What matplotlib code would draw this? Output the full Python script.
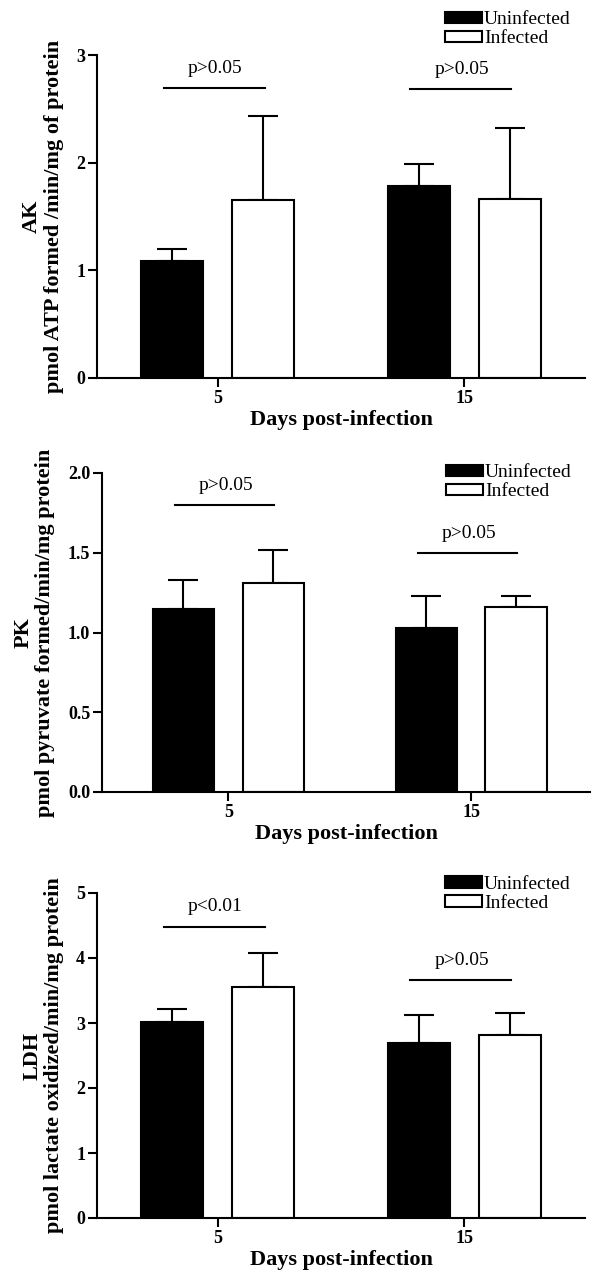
import numpy as np
import matplotlib
matplotlib.use("Agg")
import matplotlib.pyplot as plt

plt.rcParams['font.family'] = ['Liberation Serif', 'DejaVu Serif']

days = ["5", "15"]
groups = ["Uninfected", "Infected"]

ak_mean = [[1.09, 1.78], [1.65, 1.66]]
ak_err = [[0.11, 0.21], [0.78, 0.66]]
ak_sig = ["p>0.05", "p>0.05"]
ak_sig_y = [2.69, 2.68]

pk_mean = [[1.15, 1.03], [1.31, 1.16]]
pk_err = [[0.18, 0.20], [0.21, 0.07]]
pk_sig = ["p>0.05", "p>0.05"]
pk_sig_y = [1.80, 1.50]

ldh_mean = [[3.01, 2.69], [3.55, 2.81]]
ldh_err = [[0.20, 0.43], [0.52, 0.34]]
ldh_sig = ["p<0.01", "p>0.05"]
ldh_sig_y = [4.48, 3.66]

panels = [
    dict(name="AK", unit="pmol ATP formed /min/mg of protein", mean=ak_mean, err=ak_err,
         sig=ak_sig, sig_y=ak_sig_y, ymax=3, yticks=[0, 1, 2, 3], fmt="{:.0f}",
         pos=[97, 55, 585, 378], xlim=(-0.49, 1.49), leg=(0.713, 1.135)),
    dict(name="PK", unit="pmol pyruvate formed/min/mg protein", mean=pk_mean, err=pk_err,
         sig=pk_sig, sig_y=pk_sig_y, ymax=2.0, yticks=[0, 0.5, 1.0, 1.5, 2.0], fmt="{:.1f}",
         pos=[102, 473, 590, 792], xlim=(-0.52, 1.49), leg=(0.705, 1.027)),
    dict(name="LDH", unit="pmol lactate oxidized/min/mg protein", mean=ldh_mean, err=ldh_err,
         sig=ldh_sig, sig_y=ldh_sig_y, ymax=5, yticks=[0, 1, 2, 3, 4, 5], fmt="{:.0f}",
         pos=[97, 893, 585, 1218], xlim=(-0.49, 1.49), leg=(0.713, 1.053)),
]

W, H = 592, 1272
fig = plt.figure(figsize=(W / 100, H / 100), dpi=100)

x = np.arange(len(days))
bw = 0.252
off = 0.185

for p in panels:
    l, t, r, b = p["pos"]
    ax = fig.add_axes([l / W, 1 - b / H, (r - l) / W, (b - t) / H])
    colors = ["black", "white"]
    handles = []
    for i, g in enumerate(groups):
        xs = x + (i * 2 - 1) * off
        h = ax.bar(xs, p["mean"][i], bw, color=colors[i], edgecolor="black",
                   linewidth=1.5, label=g, zorder=2)
        handles.append(h)
        ax.errorbar(xs, p["mean"][i], yerr=[np.zeros(2), p["err"][i]], fmt="none",
                    ecolor="black", elinewidth=1.5, capsize=11, capthick=1.5, zorder=1)
    for j in range(2):
        ax.plot([x[j] - 0.22, x[j] + 0.19], [p["sig_y"][j]] * 2, color="black", lw=1.5)
        ax.text(x[j] - 0.01, p["sig_y"][j] + p["ymax"] * 0.035, p["sig"][j],
                ha="center", va="bottom", fontsize=14)

    ax.set_xlim(*p["xlim"])
    ax.set_ylim(0, p["ymax"])
    ax.set_xticks(x)
    ax.set_xticklabels(days, fontsize=13, fontweight="bold")
    ax.set_yticks(p["yticks"])
    ax.set_yticklabels([p["fmt"].format(v) for v in p["yticks"]], fontsize=13, fontweight="bold")
    ax.spines["top"].set_visible(False)
    ax.spines["right"].set_visible(False)
    ax.spines["left"].set_linewidth(1.5)
    ax.spines["bottom"].set_linewidth(1.5)
    ax.tick_params(direction="out", length=6.5, width=1.5, pad=2)
    ax.set_xlabel("Days post-infection", fontsize=16, fontweight="bold", labelpad=2)
    ax.set_ylabel(p["name"] + "\n" + p["unit"], fontsize=16, fontweight="bold",
                  labelpad=9, linespacing=1.1)
    ax.legend(handles=handles, loc="upper left", bbox_to_anchor=p["leg"], frameon=False,
              fontsize=14, handlelength=1.9, handleheight=0.55, handletextpad=0.1,
              borderpad=0, borderaxespad=0, labelspacing=0.1)

fig.savefig("out.png", dpi=100)
